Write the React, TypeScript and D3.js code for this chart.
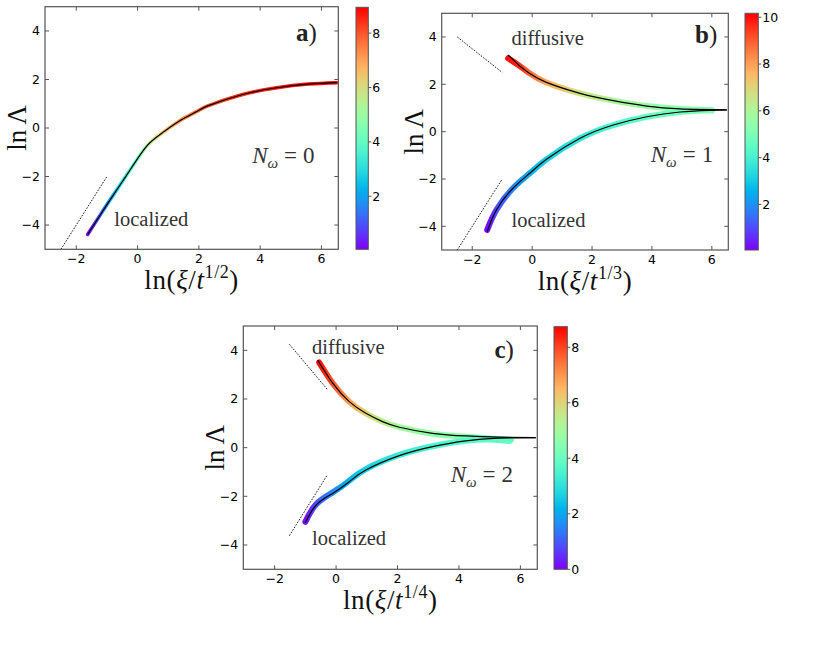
import * as d3 from "d3";

// ---- panel a: N_omega = 0 ----
const aFitX = [-1.63, -1.21, -0.89, -0.56, -0.24, 0.09, 0.41, 0.85, 1.39, 1.93, 2.31, 3.4, 4.49, 5.57, 6.5];
const aFitY = [-4.39, -3.57, -2.95, -2.33, -1.72, -1.1, -0.6, -0.16, 0.31, 0.68, 0.92, 1.37, 1.65, 1.81, 1.87];
const aBandC = [0.1, 1.2, 2.0, 3.0, 3.8, 4.5, 5.5, 6.5, 7.3, 7.8, 8.1, 8.5, 8.7, 8.85, 8.95];

// ---- panel b: N_omega = 1 ----
const bUpX = [-0.8, -0.41, -0.08, 0.48, 1.6, 2.71, 3.83, 4.94, 6.5];
const bUpY = [3.24, 2.77, 2.46, 2.08, 1.62, 1.31, 1.08, 0.96, 0.92];
const bUpBandX = [-0.8, -0.41, -0.08, 0.48, 1.6, 2.71, 3.83, 4.94, 6.0];
const bUpBandY = [3.1, 2.77, 2.46, 2.08, 1.62, 1.31, 1.08, 0.96, 0.9];
const bUpBandC = [10.0, 9.6, 8.8, 7.8, 6.6, 6.0, 5.6, 5.4, 5.2];
const bLoX = [-1.5, -1.19, -0.64, -0.08, 0.48, 1.6, 2.71, 3.83, 4.94, 5.94, 6.5];
const bLoY = [-4.22, -3.3, -2.39, -1.76, -1.17, -0.28, 0.28, 0.63, 0.83, 0.9, 0.92];
const bLoBandX = [-1.5, -1.19, -0.64, -0.08, 0.48, 1.6, 2.71, 3.83, 4.94, 6.0];
const bLoBandY = [-4.15, -3.3, -2.39, -1.76, -1.17, -0.28, 0.28, 0.63, 0.83, 0.9];
const bLoBandC = [0.1, 1.0, 1.8, 2.5, 3.1, 3.7, 4.2, 4.6, 4.9, 5.1];

// ---- panel c: N_omega = 2 ----
const cUpX = [-0.6, -0.11, 0.43, 0.97, 1.51, 2.06, 3.14, 4.22, 5.3, 6.5];
const cUpY = [3.6, 2.65, 1.89, 1.41, 1.07, 0.84, 0.59, 0.48, 0.43, 0.41];
const cUpBandX = [-0.55, -0.11, 0.43, 0.97, 1.51, 2.06, 3.14, 4.22, 5.0, 5.7];
const cUpBandY = [3.5, 2.65, 1.89, 1.41, 1.07, 0.84, 0.57, 0.45, 0.38, 0.33];
const cUpBandC = [8.6, 7.8, 6.8, 6.0, 5.4, 5.0, 4.7, 4.5, 4.4, 4.3];
const cLoX = [-1.0, -0.65, -0.11, 0.43, 0.97, 2.06, 3.14, 4.22, 5.3, 6.5];
const cLoY = [-3.09, -2.36, -1.88, -1.4, -0.92, -0.33, 0.04, 0.28, 0.39, 0.41];
const cLoBandX = [-1.0, -0.65, -0.11, 0.43, 0.97, 2.06, 3.14, 4.22, 5.0, 5.65];
const cLoBandY = [-3.05, -2.33, -1.84, -1.36, -0.88, -0.3, 0.06, 0.28, 0.33, 0.27];
const cLoBandC = [0.1, 0.9, 1.6, 2.2, 2.7, 3.2, 3.5, 3.7, 3.8, 3.9];

// guide slopes (dotted)
const slopeLocAB = { x: [-2.5, -1.0], y: [-5.0, -2.0] };
const slopeDiffB = { x: [-2.5, -1.0], y: [4.0, 2.5] };
const slopeDiffC = { x: [-1.52, -0.27], y: [4.25, 2.37] };
const slopeLocC = { x: [-1.52, -0.29], y: [-3.62, -1.13] };

const xTicks = [-2, 0, 2, 4, 6];
const yTicks = [-4, -2, 0, 2, 4];
const cTicksA = [2, 4, 6, 8];
const cTicksB = [2, 4, 6, 8, 10];
const cTicksC = [0, 2, 4, 6, 8];

const serif = "'Liberation Serif', 'Times New Roman', serif";
const sans = "'DejaVu Sans', sans-serif";
const frame = "#555";
const textCol = "#333";

// matplotlib "rainbow" colormap
const rainbow = (t: number) => {
    const k = Math.max(0, Math.min(1, t));
    const cl = (v: number) => Math.round(255 * Math.max(0, Math.min(1, v)));
    return d3.rgb(cl(Math.abs(2 * k - 0.5)), cl(Math.sin(Math.PI * k)), cl(Math.cos(Math.PI * k / 2))).formatHex();
};

const fmt = (v: number) => (v < 0 ? `\u2212${-v}` : `${v}`);

interface Branch {
    fitX: number[], fitY: number[],
    bandX: number[], bandY: number[], bandC: number[],
}

interface PanelProps {
    id: string,
    box: { left: number, top: number, right: number, bottom: number },
    bar: { left: number, right: number, top: number, bottom: number },
    cDomain: [number, number],
    cTicks: number[],
    branches: Branch[],
    bandWidth: number,
    slopes: { x: number[], y: number[] }[],
    letter: string,
    letterPos: [number, number],
    nOmega: string,
    nPos: [number, number],
    exponent: string,
    notes: { text: string, pos: [number, number] }[],
}

const Panel = ({ id, box, bar, cDomain, cTicks, branches, bandWidth, slopes, letter, letterPos, nOmega, nPos, exponent, notes }: PanelProps) => {
    const x = d3.scaleLinear().domain([-3.02, 6.55]).range([box.left, box.right]);
    const y = d3.scaleLinear().domain([-5, 5]).range([box.bottom, box.top]);
    const c = d3.scaleLinear().domain(cDomain).range([bar.bottom, bar.top]);
    const colorOf = (v: number) => rainbow((v - cDomain[0]) / (cDomain[1] - cDomain[0]));
    const line = d3.line<[number, number]>().x(d => x(d[0])).y(d => y(d[1])).curve(d3.curveNatural);
    const zip = (a: number[], b: number[]) => a.map((v, i) => [v, b[i]] as [number, number]);
    const tl = 4;
    const cx = (box.left + box.right) / 2;
    const cy = (box.top + box.bottom) / 2;

    return (
        <g>
            <defs>
                <clipPath id={`clip-${id}`}>
                    <rect x={box.left} y={box.top} width={box.right - box.left} height={box.bottom - box.top} />
                </clipPath>
                <linearGradient id={`cbar-${id}`} x1="0" y1="1" x2="0" y2="0">
                    {d3.range(0, 1.0001, 0.05).map(t => <stop key={t} offset={t} stopColor={rainbow(t)} />)}
                </linearGradient>
                {branches.map((b, i) => {
                    const x1 = x(b.bandX[0]);
                    const x2 = x(b.bandX[b.bandX.length - 1]);
                    return (
                        <linearGradient key={i} id={`band-${id}-${i}`} gradientUnits="userSpaceOnUse" x1={x1} y1={0} x2={x2} y2={0}>
                            {b.bandX.map((v, j) => (
                                <stop key={j} offset={(x(v) - x1) / (x2 - x1)} stopColor={colorOf(b.bandC[j])} />
                            ))}
                        </linearGradient>
                    );
                })}
            </defs>

            <g clipPath={`url(#clip-${id})`}>
                {slopes.map((s, i) => (
                    <line key={i} x1={x(s.x[0])} y1={y(s.y[0])} x2={x(s.x[1])} y2={y(s.y[1])}
                        stroke="#000" strokeWidth={0.9} strokeDasharray="1.6 1.4" />
                ))}
                {branches.map((b, i) => (
                    <path key={`b${i}`} d={line(zip(b.bandX, b.bandY)) ?? ""} fill="none"
                        stroke={`url(#band-${id}-${i})`} strokeWidth={bandWidth} strokeLinecap="round" />
                ))}
                {branches.map((b, i) => (
                    <path key={`f${i}`} d={line(zip(b.fitX, b.fitY)) ?? ""} fill="none" stroke="#000" strokeWidth={1.2} />
                ))}
            </g>

            {/* ticks pointing inward on all four sides */}
            <g stroke={frame} strokeWidth={1}>
                {xTicks.map(t => (
                    <g key={`x${t}`}>
                        <line x1={x(t)} x2={x(t)} y1={box.bottom} y2={box.bottom - tl} />
                        <line x1={x(t)} x2={x(t)} y1={box.top} y2={box.top + tl} />
                    </g>
                ))}
                {yTicks.map(t => (
                    <g key={`y${t}`}>
                        <line x1={box.left} x2={box.left + tl} y1={y(t)} y2={y(t)} />
                        <line x1={box.right} x2={box.right - tl} y1={y(t)} y2={y(t)} />
                    </g>
                ))}
            </g>
            <rect x={box.left} y={box.top} width={box.right - box.left} height={box.bottom - box.top}
                fill="none" stroke={frame} strokeWidth={1.2} />

            <g fontFamily={sans} fontSize={12.5} fill="#000">
                {xTicks.map(t => (
                    <text key={`xl${t}`} x={x(t)} y={box.bottom + 14} textAnchor="middle">{fmt(t)}</text>
                ))}
                {yTicks.map(t => (
                    <text key={`yl${t}`} x={box.left - 5} y={y(t)} dy="0.35em" textAnchor="end">{fmt(t)}</text>
                ))}
            </g>

            {/* colour bar */}
            <rect x={bar.left} y={bar.top} width={bar.right - bar.left} height={bar.bottom - bar.top} fill={`url(#cbar-${id})`} />
            <rect x={bar.left} y={bar.top} width={bar.right - bar.left} height={bar.bottom - bar.top} fill="none" stroke={frame} strokeWidth={1} />
            <g fontFamily={sans} fontSize={12.5} fill="#000">
                {cTicks.map(t => (
                    <g key={`c${t}`}>
                        <line x1={bar.right} x2={bar.right + 3} y1={c(t)} y2={c(t)} stroke={frame} />
                        <text x={bar.right + 4} y={c(t)} dy="0.35em">{t}</text>
                    </g>
                ))}
            </g>

            {/* axis titles */}
            <text x={cx} y={box.bottom + 40} textAnchor="middle" fontFamily={serif} fontSize={27} fill="#111" letterSpacing={0.6}>
                ln(<tspan fontStyle="italic">ξ</tspan>/<tspan fontStyle="italic">t</tspan>
                <tspan fontSize={18} dy={-11}>{exponent}</tspan>
                <tspan dy={11}>)</tspan>
            </text>
            <text transform={`translate(${box.left - 19},${cy}) rotate(-90)`} textAnchor="middle" fontFamily={serif} fontSize={27} fill="#111">
                ln<tspan dx={5}>Λ</tspan>
            </text>

            {/* annotations */}
            <text x={x(letterPos[0])} y={y(letterPos[1])} textAnchor="end" fontFamily={serif} fontSize={25} fill="#222">
                <tspan fontWeight="bold">{letter}</tspan>)
            </text>
            <text x={x(nPos[0])} y={y(nPos[1])} fontFamily={serif} fontSize={23} fill={textCol}>
                <tspan fontStyle="italic">N</tspan>
                <tspan fontStyle="italic" fontSize={15} dy={5}>ω</tspan>
                <tspan dy={-5} dx={6}>=</tspan>
                <tspan dx={6}>{nOmega}</tspan>
            </text>
            {notes.map((n, i) => (
                <text key={i} x={x(n.pos[0])} y={y(n.pos[1])} fontFamily={serif} fontSize={20.5} fill={textCol}>{n.text}</text>
            ))}
        </g>
    );
};

const App = () => (
    <svg width={837} height={652} style={{ position: "absolute", left: 0, top: 0, background: "#fff" }}>
        <Panel
            id="a"
            box={{ left: 45, top: 6.7, right: 338.3, bottom: 249.3 }}
            bar={{ left: 356, right: 368.3, top: 7.3, bottom: 249.3 }}
            cDomain={[0.05, 8.95]}
            cTicks={cTicksA}
            branches={[{ fitX: aFitX, fitY: aFitY, bandX: aFitX, bandY: aFitY, bandC: aBandC }]}
            bandWidth={3.5}
            slopes={[slopeLocAB]}
            letter="a" letterPos={[5.85, 3.59]}
            nOmega="0" nPos={[3.74, -1.43]}
            exponent="1/2"
            notes={[{ text: "localized", pos: [-0.76, -4.06] }]}
        />
        <Panel
            id="b"
            box={{ left: 441.7, top: 13.3, right: 728.3, bottom: 250 }}
            bar={{ left: 745, right: 758.3, top: 13.3, bottom: 250 }}
            cDomain={[0.05, 10.17]}
            cTicks={cTicksB}
            branches={[
                { fitX: bUpX, fitY: bUpY, bandX: bUpBandX, bandY: bUpBandY, bandC: bUpBandC },
                { fitX: bLoX, fitY: bLoY, bandX: bLoBandX, bandY: bLoBandY, bandC: bLoBandC },
            ]}
            bandWidth={6}
            slopes={[slopeLocAB, slopeDiffB]}
            letter="b" letterPos={[6.18, 3.74]}
            nOmega="1" nPos={[3.96, -1.29]}
            exponent="1/3"
            notes={[
                { text: "diffusive", pos: [-0.69, 3.66] },
                { text: "localized", pos: [-0.69, -4.01] },
            ]}
        />
        <Panel
            id="c"
            box={{ left: 243.3, top: 326, right: 537.3, bottom: 569.3 }}
            bar={{ left: 554, right: 567.3, top: 326.7, bottom: 569.3 }}
            cDomain={[0, 8.74]}
            cTicks={cTicksC}
            branches={[
                { fitX: cUpX, fitY: cUpY, bandX: cUpBandX, bandY: cUpBandY, bandC: cUpBandC },
                { fitX: cLoX, fitY: cLoY, bandX: cLoBandX, bandY: cLoBandY, bandC: cLoBandC },
            ]}
            bandWidth={6}
            slopes={[slopeDiffC, slopeLocC]}
            letter="c" letterPos={[5.79, 3.69]}
            nOmega="2" nPos={[3.73, -1.42]}
            exponent="1/4"
            notes={[
                { text: "diffusive", pos: [-0.78, 3.84] },
                { text: "localized", pos: [-0.78, -4.0] },
            ]}
        />
    </svg>
);

export default App;
